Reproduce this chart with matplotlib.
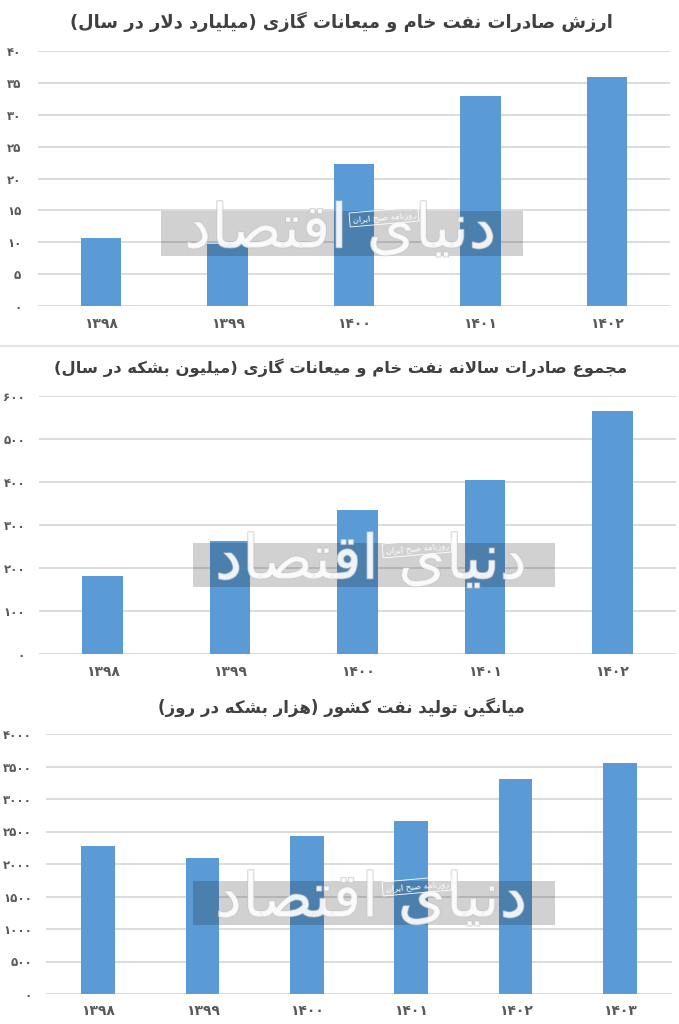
import matplotlib.pyplot as plt
import matplotlib.patheffects as pe
from matplotlib.patches import Rectangle

# ---- data -------------------------------------------------------------
years_a = ["1398", "1399", "1400", "1401", "1402"]
years_b = ["1398", "1399", "1400", "1401", "1402", "1403"]

export_value = [10.7, 9.7, 22.2, 33.0, 35.9]          # billion dollars / year
export_volume = [182, 262, 335, 405, 565]             # million barrels / year
production = [2280, 2100, 2430, 2655, 3305, 3560]     # thousand barrels / day

title_1 = "ارزش صادرات نفت خام و میعانات گازی (میلیارد دلار در سال)"
title_2 = "مجموع صادرات سالانه نفت خام و میعانات گازی (میلیون بشکه در سال)"
title_3 = "میانگین تولید نفت کشور (هزار بشکه در روز)"
logo_text = "دنیای اقتصاد"
logo_sub = "روزنامه صبح ایران"

# ---- tiny persian shaper (matplotlib does no arabic shaping) ----------
FORMS = {
    "ا": (0xFE8D, 0xFE8E), "آ": (0xFE81, 0xFE82), "د": (0xFEA9, 0xFEAA),
    "ذ": (0xFEAB, 0xFEAC), "ر": (0xFEAD, 0xFEAE), "ز": (0xFEAF, 0xFEB0),
    "ژ": (0xFB8A, 0xFB8B), "و": (0xFEED, 0xFEEE),
    "ب": (0xFE8F, 0xFE90, 0xFE91, 0xFE92), "پ": (0xFB56, 0xFB57, 0xFB58, 0xFB59),
    "ت": (0xFE95, 0xFE96, 0xFE97, 0xFE98), "ث": (0xFE99, 0xFE9A, 0xFE9B, 0xFE9C),
    "ج": (0xFE9D, 0xFE9E, 0xFE9F, 0xFEA0), "چ": (0xFB7A, 0xFB7B, 0xFB7C, 0xFB7D),
    "ح": (0xFEA1, 0xFEA2, 0xFEA3, 0xFEA4), "خ": (0xFEA5, 0xFEA6, 0xFEA7, 0xFEA8),
    "س": (0xFEB1, 0xFEB2, 0xFEB3, 0xFEB4), "ش": (0xFEB5, 0xFEB6, 0xFEB7, 0xFEB8),
    "ص": (0xFEB9, 0xFEBA, 0xFEBB, 0xFEBC), "ض": (0xFEBD, 0xFEBE, 0xFEBF, 0xFEC0),
    "ط": (0xFEC1, 0xFEC2, 0xFEC3, 0xFEC4), "ظ": (0xFEC5, 0xFEC6, 0xFEC7, 0xFEC8),
    "ع": (0xFEC9, 0xFECA, 0xFECB, 0xFECC), "غ": (0xFECD, 0xFECE, 0xFECF, 0xFED0),
    "ف": (0xFED1, 0xFED2, 0xFED3, 0xFED4), "ق": (0xFED5, 0xFED6, 0xFED7, 0xFED8),
    "ک": (0xFB8E, 0xFB8F, 0xFB90, 0xFB91), "گ": (0xFB92, 0xFB93, 0xFB94, 0xFB95),
    "ل": (0xFEDD, 0xFEDE, 0xFEDF, 0xFEE0), "م": (0xFEE1, 0xFEE2, 0xFEE3, 0xFEE4),
    "ن": (0xFEE5, 0xFEE6, 0xFEE7, 0xFEE8), "ه": (0xFEE9, 0xFEEA, 0xFEEB, 0xFEEC),
    "ی": (0xFBFC, 0xFBFD, 0xFBFE, 0xFBFF),
}


def shape(text):
    # lam-alef ligature first
    chars = []
    i = 0
    while i < len(text):
        if text[i] == "ل" and i + 1 < len(text) and text[i + 1] == "ا":
            chars.append("LA")
            i += 2
        else:
            chars.append(text[i])
            i += 1

    def joins_next(c):
        return c in FORMS and len(FORMS[c]) == 4

    def is_letter(c):
        return c in FORMS or c == "LA"

    out = []
    for k, c in enumerate(chars):
        prev = chars[k - 1] if k > 0 else None
        nxt = chars[k + 1] if k + 1 < len(chars) else None
        link_prev = prev is not None and joins_next(prev)
        if c == "LA":
            out.append(chr(0xFEFC if link_prev else 0xFEFB))
            continue
        if c not in FORMS:
            out.append(c)
            continue
        f = FORMS[c]
        link_next = len(f) == 4 and nxt is not None and is_letter(nxt)
        if link_prev and link_next:
            out.append(chr(f[3]))
        elif link_prev:
            out.append(chr(f[1]))
        elif link_next:
            out.append(chr(f[2]))
        else:
            out.append(chr(f[0]))
    s = "".join(reversed(out))
    return s.translate(str.maketrans("()", ")("))


def fa(n):
    return str(n).translate(str.maketrans("0123456789", "۰۱۲۳۴۵۶۷۸۹"))


# ---- figure -----------------------------------------------------------
W, H = 679, 1024
fig = plt.figure(figsize=(W / 100, H / 100), dpi=100)
fig.patch.set_facecolor("white")

bar_color = "#5b9bd5"
grid_color = "#d9d9d9"
text_color = "#595959"


def panel(left, right, top, bottom, cats, vals, ymax, step, title, title_y, title_size,
          ypad, xpad):
    ax = fig.add_axes([left / W, 1 - bottom / H, (right - left) / W, (bottom - top) / H])
    x = range(len(cats))
    ax.bar(x, vals, width=0.32, color=bar_color, zorder=2)
    ax.set_xlim(-0.5, len(cats) - 0.5)
    ax.set_ylim(0, ymax)
    ticks = list(range(0, ymax + 1, step))
    ax.set_yticks(ticks, labels=[fa(t) for t in ticks])
    ax.set_xticks(list(x), labels=[fa(c) for c in cats])
    ax.grid(axis="y", color=grid_color, linewidth=1.3, zorder=0)
    ax.set_axisbelow(True)
    for sp in ax.spines.values():
        sp.set_visible(False)
    ax.tick_params(axis="both", length=0, colors=text_color)
    ax.tick_params(axis="y", pad=ypad, labelsize=8.5)
    ax.tick_params(axis="x", pad=xpad, labelsize=10)
    for lb in ax.get_xticklabels() + ax.get_yticklabels():
        lb.set_fontweight("bold")
    fig.text(341 / W, 1 - title_y / H, shape(title), ha="center", va="center",
             fontsize=title_size, fontweight="bold", color="#404040")
    return ax


panel(38, 670, 51, 306, years_a, export_value, 40, 5, title_1, 22, 12.9, 12, 8)
panel(39, 676, 396, 654, years_a, export_volume, 600, 100, title_2, 368, 11.8, 10, 8)
panel(46, 672, 734, 994, years_b, production, 4000, 500, title_3, 707, 12.0, 10, 7)

# separator between the first two charts
fig.add_artist(plt.Line2D([0, 1], [1 - 346 / H, 1 - 346 / H], transform=fig.transFigure,
                          color="#e3e3e3", linewidth=1.6))

# ---- watermark ----------------------------------------------------------
marks = [
    # rect x0, x1, y0, y1, logo cx, cy, sub cx, cy
    (161, 523, 211, 256, 340, 231, 384, 217),
    (193, 555, 543, 587, 371, 562, 417, 548),
    (193, 555, 881, 925, 371, 900, 417, 886),
]
for x0, x1, y0, y1, lx, ly, sx, sy in marks:
    fig.add_artist(Rectangle((x0 / W, 1 - y1 / H), (x1 - x0) / W, (y1 - y0) / H,
                             transform=fig.transFigure, facecolor="black",
                             alpha=0.18, edgecolor="none", zorder=3))
    fig.text(lx / W, 1 - ly / H, shape(logo_text), ha="center", va="center",
             fontsize=44, color="white", alpha=0.7, zorder=4,
             path_effects=[pe.withStroke(linewidth=1.2, foreground="#c4c4c4")])
    fig.text(sx / W, 1 - sy / H, shape(logo_sub), ha="center", va="center",
             fontsize=6, color="white", rotation=5, zorder=5,
             bbox=dict(boxstyle="square,pad=0.3", facecolor="none",
                       edgecolor="white", linewidth=0.6))

fig.savefig("out.png", dpi=100)
